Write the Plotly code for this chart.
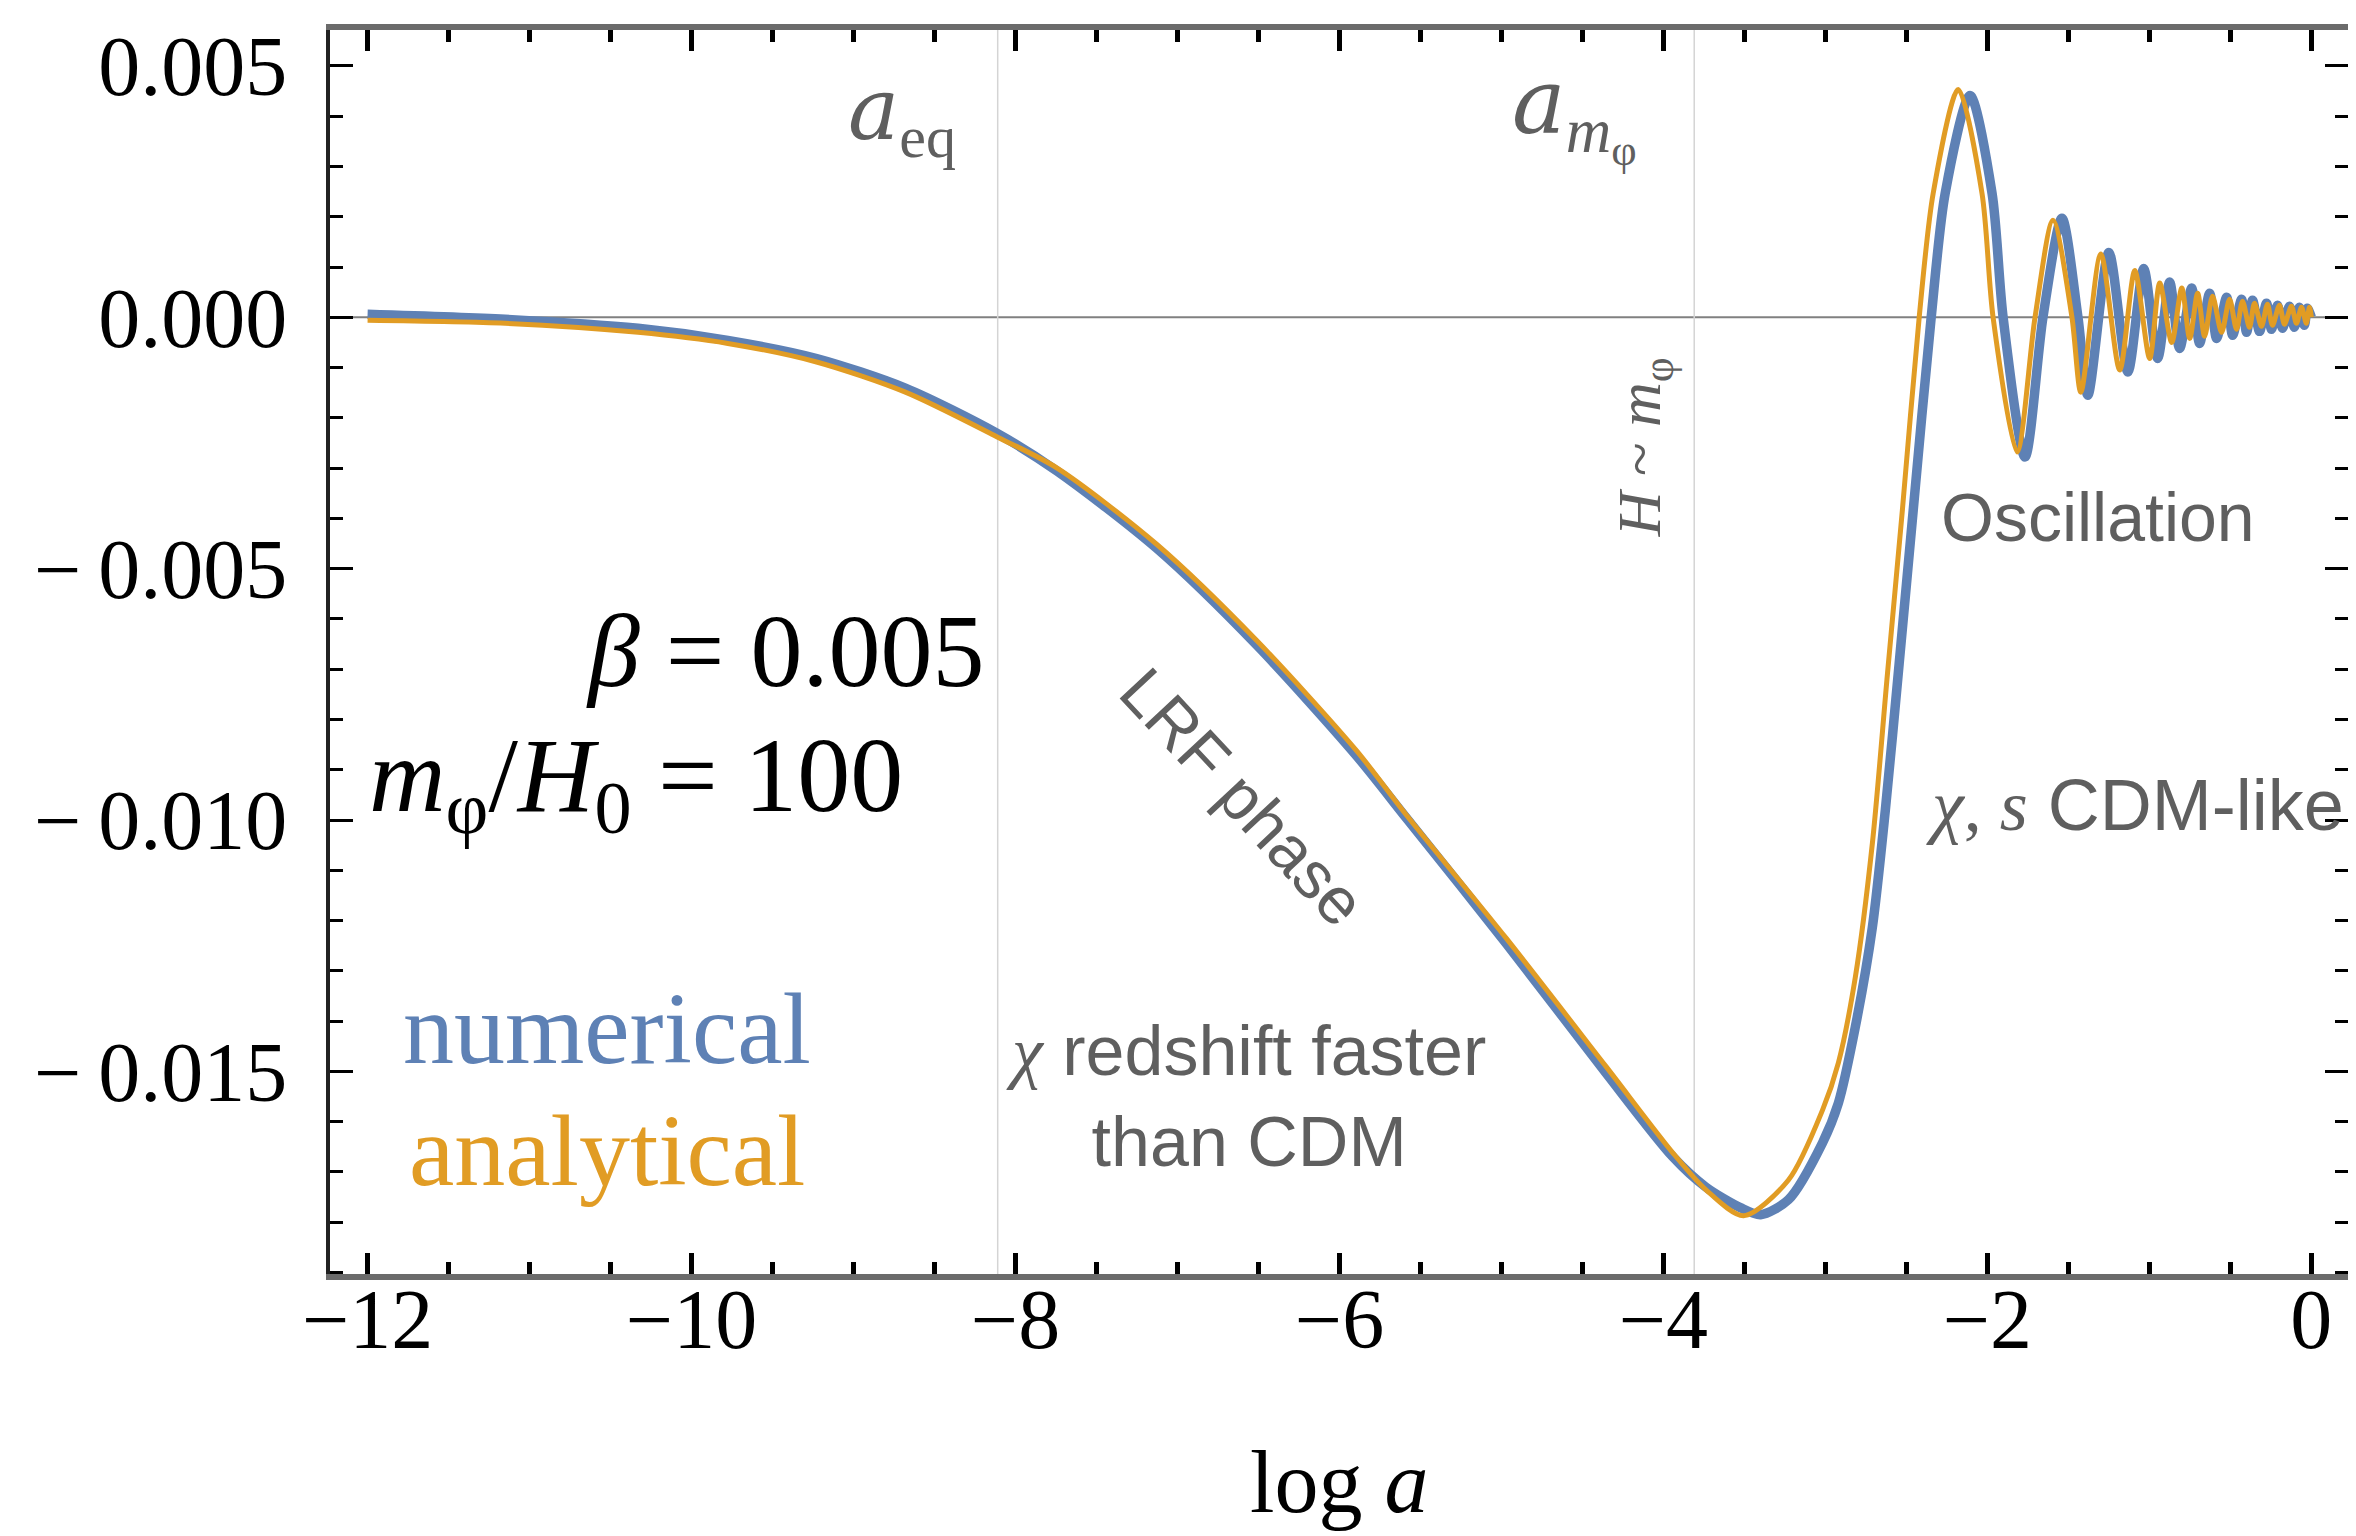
import plotly.graph_objects as go

# ---- data ----
num_x = [-12.0, -11.15, -10.33, -9.776, -9.228, -8.68, -8.113, -7.743, -7.127, -6.511,
         -5.895, -5.587, -4.971, -4.355, -3.942, -3.739, -3.525, -3.40, -3.228, -3.018,
         -2.920, -2.815, -2.710, -2.630, -2.545, -2.458, -2.347, -2.261, -2.107, -1.971,
         -1.903, -1.768, -1.657, -1.540, -1.441, -1.380, -1.250, -1.133, -1.035, -0.949,
         -0.875, -0.813, -0.739, -0.690, -0.628, -0.585, -0.523, -0.486, -0.431, -0.400,
         -0.363, -0.320, -0.277, -0.246, -0.209, -0.178, -0.135, -0.105, -0.074, -0.043,
         -0.025, 0.0]
num_y = [0.00006, -0.00004, -0.00022, -0.00046, -0.00082, -0.00141, -0.00231, -0.00306, -0.0046, -0.00652,
         -0.00872, -0.00996, -0.01245, -0.01503, -0.0167, -0.0173, -0.01771, -0.01785, -0.01755, -0.01642,
         -0.01563, -0.01411, -0.01213, -0.0098, -0.0069, -0.00384, 0.0, 0.00246, 0.00441, 0.00246,
         0.0, -0.00278, 0.0, 0.00197, 0.0, -0.00155, 0.00129, -0.00109, 0.00097, -0.00082,
         0.0007, -0.00062, 0.00058, -0.00052, 0.00048, -0.00042, 0.0004, -0.00036, 0.00036, -0.0003,
         0.00034, -0.00028, 0.00028, -0.00024, 0.00024, -0.00022, 0.00022, -0.0002, 0.0002, -0.00016,
         0.00018, 0.0]

ana_x = [-12.0, -11.15, -10.33, -9.776, -9.228, -8.68, -8.113, -7.743, -7.127, -6.511,
         -5.895, -5.587, -4.971, -4.355, -3.942, -3.739, -3.505, -3.228, -3.018, -2.920,
         -2.815, -2.710, -2.620, -2.525, -2.421, -2.335, -2.180, -2.033, -1.965, -1.817,
         -1.706, -1.595, -1.478, -1.423, -1.300, -1.183, -1.090, -0.998, -0.936, -0.862,
         -0.800, -0.751, -0.702, -0.659, -0.610, -0.554, -0.505, -0.462, -0.425, -0.382,
         -0.351, -0.308, -0.271, -0.240, -0.197, -0.166, -0.123, -0.092, -0.061, -0.031,
         -0.012, 0.0]
ana_y = [-0.00006, -0.00012, -0.0003, -0.00052, -0.00089, -0.00149, -0.00238, -0.003, -0.00452, -0.00643,
         -0.00862, -0.0099, -0.01235, -0.0149, -0.01662, -0.01735, -0.01787, -0.01716, -0.01577, -0.01483,
         -0.01312, -0.01046, -0.0072, -0.00384, 0.0, 0.00246, 0.00453, 0.00246, 0.0, -0.00268,
         0.0, 0.00193, 0.0, -0.00149, 0.00126, -0.00105, 0.00093, -0.00082, 0.00068, -0.0005,
         0.00058, -0.00042, 0.00048, -0.00038, 0.00042, -0.0003, 0.00036, -0.00024, 0.00032, -0.0002,
         0.00028, -0.00018, 0.00026, -0.00016, 0.00024, -0.00014, 0.00022, -0.00012, 0.0002, -0.00012,
         0.0002, 0.0]

x_tick_vals = [-12, -10, -8, -6, -4, -2, 0]
x_tick_text = ["\u221212", "\u221210", "\u22128", "\u22126", "\u22124", "\u22122", "0"]
y_tick_vals = [0.005, 0.0, -0.005, -0.010, -0.015]
y_tick_text = ["0.005", "0.000", "\u2212\u20090.005", "\u2212\u20090.010", "\u2212\u20090.015"]

marker_lines_x = [-8.11, -3.81]   # a_eq, a_m_phi

BLUE = "#5E81B5"
ORANGE = "#E19C24"
GRAY_TXT = "#5f5f5f"
SERIF = "Liberation Serif"
SANS = "Liberation Sans"
WIDE_IT = '<span style="font-family:DejaVu Serif"><i>{}</i></span>'

fig = go.Figure()
fig.add_trace(go.Scatter(x=num_x, y=num_y, mode="lines",
                         line=dict(color=BLUE, width=9.5, shape="spline", smoothing=0.8),
                         showlegend=False, hoverinfo="skip"))
fig.add_trace(go.Scatter(x=ana_x, y=ana_y, mode="lines",
                         line=dict(color=ORANGE, width=5, shape="spline", smoothing=0.8),
                         showlegend=False, hoverinfo="skip"))

shapes = [dict(type="line", xref="paper", yref="y", x0=0, x1=1, y0=0, y1=0,
               line=dict(color="#808080", width=2), layer="below")]
for xv in marker_lines_x:
    shapes.append(dict(type="line", xref="x", yref="paper", x0=xv, x1=xv, y0=0, y1=1,
                       line=dict(color="#d4d4d4", width=1.5), layer="below"))

annotations = [
    dict(x=-8.70, y=0.00403, text=WIDE_IT.format("a") + "<sub>eq</sub>",
         font=dict(family=SERIF, size=86, color=GRAY_TXT)),
    dict(x=-4.546, y=0.00409, text=WIDE_IT.format("a") + "<sub><i>m</i><sub>\u03c6</sub></sub>",
         font=dict(family=SERIF, size=90, color=GRAY_TXT)),
    dict(x=-4.118, y=-0.00258, text="<i>H</i> ~ <i>m</i><sub>\u03c6</sub>", textangle=-90,
         font=dict(family=SERIF, size=62, color=GRAY_TXT)),
    dict(x=-1.318, y=-0.00398, text="Oscillation",
         font=dict(family=SANS, size=68, color=GRAY_TXT)),
    dict(x=-2.393, y=-0.00972, xanchor="left",
         text='<span style="font-family:Liberation Serif"><i>\u03c7</i>, <i>s</i></span> CDM-like',
         font=dict(family=SANS, size=72, color=GRAY_TXT)),
    dict(x=-6.597, y=-0.00955, text="LRF phase", textangle=47,
         font=dict(family=SANS, size=66, color=GRAY_TXT)),
    dict(x=-6.58, y=-0.01549,
         text='<span style="font-family:Liberation Serif"><i>\u03c7</i></span> redshift faster<br>than CDM',
         font=dict(family=SANS, size=70, color=GRAY_TXT)),
    dict(x=-9.425, y=-0.00662, text="<i>\u03b2</i> = 0.005",
         font=dict(family=SERIF, size=104, color="black")),
    dict(x=-10.343, y=-0.00926, text="<i>m</i><sub>\u03c6</sub>/<i>H</i><sub>0</sub> = 100",
         font=dict(family=SERIF, size=106, color="black")),
    dict(x=-10.52, y=-0.01415, text="numerical",
         font=dict(family=SERIF, size=102, color=BLUE)),
    dict(x=-10.52, y=-0.01658, text="analytical",
         font=dict(family=SERIF, size=102, color=ORANGE)),
    dict(xref="paper", yref="paper", x=0.5, y=-0.168, text="log <i>a</i>",
         font=dict(family=SERIF, size=88, color="black")),
]
for a in annotations:
    a.setdefault("xref", "x")
    a.setdefault("yref", "y")
    a.setdefault("xanchor", "center")
    a.setdefault("yanchor", "middle")
    a["showarrow"] = False

fig.update_layout(
    width=2356, height=1536,
    margin=dict(l=322, r=12, t=19, b=270),
    paper_bgcolor="white", plot_bgcolor="white",
    shapes=shapes, annotations=annotations,
    xaxis=dict(range=[-12.232, 0.2262], showgrid=False, zeroline=False,
               showline=True, linecolor="#6b6b6b", linewidth=6, mirror="allticks",
               ticks="inside", ticklen=21, tickwidth=4.5, tickcolor="black",
               tickvals=x_tick_vals, ticktext=x_tick_text,
               tickfont=dict(family=SERIF, size=84, color="black"),
               ticklabelstandoff=-33,
               minor=dict(dtick=0.5, tick0=0, ticks="inside", ticklen=12, tickwidth=4.5,
                          tickcolor="black", showgrid=False)),
    yaxis=dict(range=[-0.01903, 0.005714], showgrid=False, zeroline=False,
               showline=True, linecolor="#222222", linewidth=4, mirror="allticks",
               ticks="inside", ticklen=23, tickwidth=3, tickcolor="black",
               tickvals=y_tick_vals, ticktext=y_tick_text,
               tickfont=dict(family=SERIF, size=84, color="black"),
               ticklabelstandoff=22,
               minor=dict(dtick=0.001, tick0=0, ticks="inside", ticklen=13, tickwidth=3,
                          tickcolor="black", showgrid=False)),
)

fig.write_html("out.html")
